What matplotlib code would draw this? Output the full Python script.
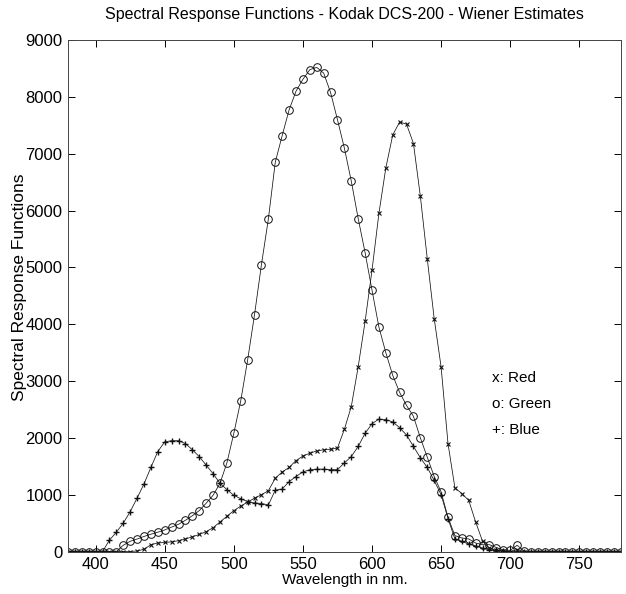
import matplotlib
matplotlib.use("Agg")
import matplotlib.pyplot as plt

plt.rcParams['font.family'] = ['Liberation Sans', 'DejaVu Sans']

wavelength = [380, 385, 390, 395, 400, 405, 410, 415, 420, 425,
              430, 435, 440, 445, 450, 455, 460, 465, 470, 475,
              480, 485, 490, 495, 500, 505, 510, 515, 520, 525,
              530, 535, 540, 545, 550, 555, 560, 565, 570, 575,
              580, 585, 590, 595, 600, 605, 610, 615, 620, 625,
              630, 635, 640, 645, 650, 655, 660, 665, 670, 675,
              680, 685, 690, 695, 700, 705, 710, 715, 720, 725,
              730, 735, 740, 745, 750, 755, 760, 765, 770, 775,
              780]

red = [0, 0, 0, 0, 0, 0, 0, 0, 0, 0,
       10, 40, 120, 150, 160, 170, 190, 220, 260, 300,
       350, 420, 520, 620, 720, 800, 870, 940, 1000, 1070,
       1290, 1400, 1480, 1600, 1680, 1730, 1770, 1790, 1800, 1820,
       2150, 2550, 3250, 4050, 4950, 5950, 6750, 7330, 7560, 7520,
       7180, 6250, 5150, 4100, 3250, 1900, 1120, 1020, 900, 520,
       180, 60, 20, 10, 0, 30, 0, 0, 0, 0,
       0, 0, 0, 0, 0, 0, 0, 0, 0, 0,
       0]

green = [0, 0, 0, 0, 0, 0, 0, 0, 110, 180,
         220, 265, 305, 340, 380, 430, 480, 550, 630, 720,
         850, 990, 1200, 1560, 2080, 2650, 3370, 4170, 5050, 5850,
         6850, 7320, 7770, 8100, 8310, 8480, 8520, 8420, 8080, 7600,
         7100, 6520, 5860, 5260, 4600, 3950, 3500, 3100, 2800, 2570,
         2380, 2000, 1660, 1320, 1050, 600, 280, 240, 220, 150,
         120, 120, 70, 30, 20, 110, 10, 0, 0, 0,
         0, 0, 0, 0, 0, 0, 0, 0, 0, 0,
         0]

blue = [0, 0, 0, 0, 0, 0, 200, 340, 500, 700,
        940, 1190, 1480, 1760, 1930, 1950, 1950, 1900, 1790, 1670,
        1520, 1370, 1200, 1090, 990, 930, 880, 855, 845, 820,
        1080, 1100, 1230, 1320, 1400, 1440, 1450, 1450, 1440, 1440,
        1560, 1670, 1850, 2080, 2250, 2330, 2320, 2280, 2180, 2050,
        1850, 1650, 1480, 1250, 1000, 580, 220, 180, 130, 100,
        60, 30, 20, 10, 0, 0, 0, 0, 0, 0,
        0, 0, 0, 0, 0, 0, 0, 0, 0, 0,
        0]

xticks = [400, 450, 500, 550, 600, 650, 700, 750]
yticks = [0, 1000, 2000, 3000, 4000, 5000, 6000, 7000, 8000, 9000]
legend_lines = ["x: Red", "o: Green", "+: Blue"]

fig = plt.figure(figsize=(6.26, 5.94), dpi=100)
ax = fig.add_axes([0.1086, 0.0715, 0.883, 0.861])

ax.plot(wavelength, red, color='#111111', lw=0.55, marker='x', ms=2.5, mew=0.8)
ax.plot(wavelength, green, color='#111111', lw=0.55, marker='o', ms=5.5,
        mfc='none', mew=0.7)
ax.plot(wavelength, blue, color='#111111', lw=0.55, marker='+', ms=5, mew=1.0)

ax.set_xlim(380, 780)
ax.set_ylim(0, 9000)
ax.set_xticks(xticks)
ax.set_yticks(yticks)
ax.tick_params(direction='in', length=5, width=0.7, top=True, right=True,
               labelsize=12, pad=4, colors='black')
for s in ax.spines.values():
    s.set_linewidth(0.7)
    s.set_color('#444444')

ax.set_title("Spectral Response Functions - Kodak DCS-200 - Wiener Estimates",
             fontsize=11.5, pad=15)
ax.set_xlabel("Wavelength in nm.", fontsize=11)
ax.set_ylabel("Spectral Response Functions", fontsize=12.5)
ax.xaxis.set_label_coords(0.5, -0.042)
ax.yaxis.set_label_coords(-0.074, 0.517)

legend_y = [3050, 2600, 2140]
for txt, yv in zip(legend_lines, legend_y):
    ax.text(687, yv, txt, fontsize=11, va='center', ha='left')

fig.savefig("out.png", dpi=100)
